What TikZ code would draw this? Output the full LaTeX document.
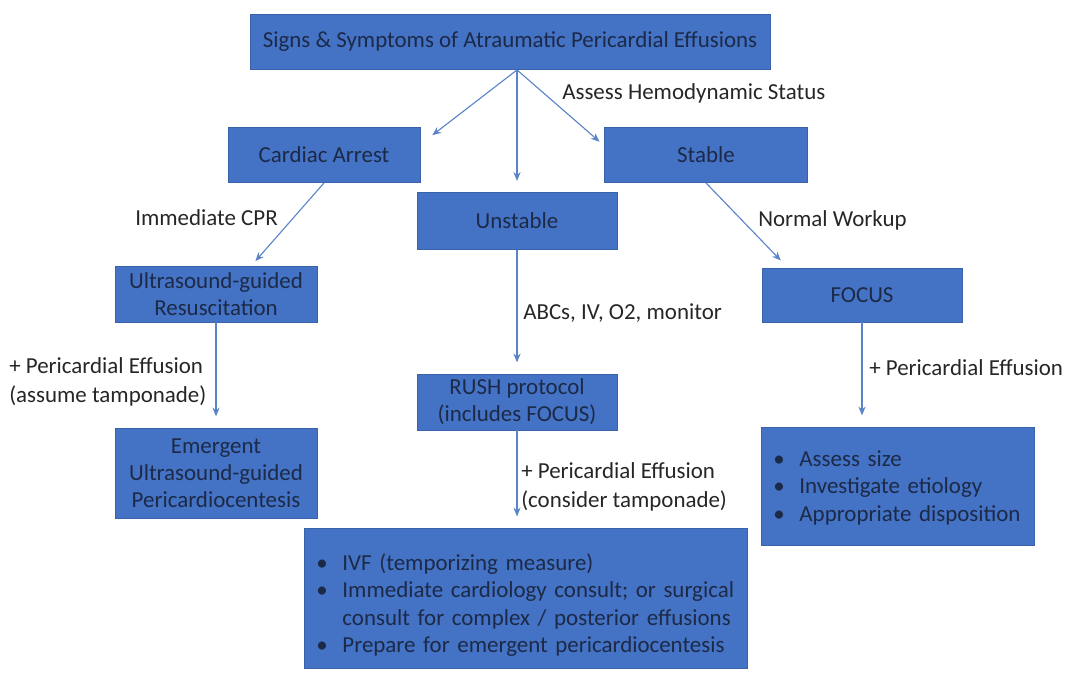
\documentclass[tikz,border=0pt]{standalone}
\usepackage{fontspec}
\setmainfont{Carlito}
\usepackage{xcolor}
\usepackage{tikz}
\usetikzlibrary{arrows.meta, positioning}
\definecolor{boxblue}{HTML}{4472C4}
\definecolor{boxedge}{HTML}{3A62AB}
\definecolor{boxtext}{HTML}{1C2A48}
\definecolor{arrowblue}{HTML}{5A84C8}
\definecolor{notetext}{HTML}{262626}
\newcommand{\flowfont}{\fontsize{16.3}{19.3}\selectfont}
\newcommand{\notefont}{\fontsize{16.3}{20.6}\selectfont}

\begin{document}
\begin{tikzpicture}[x=0.025cm, y=-0.025cm,
    flowbox/.style={draw=boxedge, fill=boxblue, text=boxtext, font=\flowfont, align=center, inner sep=0pt, line width=0.6pt},
    listbox/.style={flowbox, align=left, inner xsep=0.3cm},
    arr/.style={-{Stealth[length=2.2mm, width=1.8mm]}, arrowblue, line width=0.8pt, shorten >=0.28cm},
    note/.style={font=\notefont, text=notetext, align=left, inner sep=0pt}
]
    \useasboundingbox (0,0) rectangle (1070,675);

    % Boxes
    \node[flowbox, minimum width=13cm, minimum height=1.375cm] (signs) at (510,42) {Signs \& Symptoms of Atraumatic Pericardial Effusions};
    \node[flowbox, minimum width=4.8cm, minimum height=1.375cm] (arrest) at (324,155) {Cardiac Arrest};
    \node[flowbox, minimum width=5.075cm, minimum height=1.375cm] (stable) at (706,155) {Stable};
    \node[flowbox, minimum width=5cm, minimum height=1.425cm] (unstable) at (517,221) {Unstable};
    \node[flowbox, minimum width=5.05cm, minimum height=1.4cm] (usresus) at (216,294) {Ultrasound-guided\\Resuscitation};
    \node[flowbox, minimum width=5.05cm, minimum height=2.25cm] (pcent) at (216,473) {Emergent\\Ultrasound-guided\\Pericardiocentesis};
    \node[flowbox, minimum width=5cm, minimum height=1.35cm] (focus) at (862,295) {FOCUS};
    \node[flowbox, minimum width=5cm, minimum height=1.4cm] (rush) at (517,402) {RUSH protocol\\(includes FOCUS)};

    % Bullet lists
    \node[listbox, text width=6.225cm, minimum height=2.95cm] (stablelist) at (898,486) {%
        \begin{tabular}{@{}p{0.65cm}@{}l@{}}
        \textbullet & \rule{0pt}{17pt}Assess size\\
        \textbullet & Investigate etiology\\
        \textbullet & Appropriate disposition
        \end{tabular}};
    \node[listbox, text width=10.475cm, minimum height=3.5cm] (unstablelist) at (526,598) {%
        \begin{tabular}{@{}p{0.65cm}@{}l@{}}
        \textbullet & \rule{0pt}{25pt}IVF (temporizing measure)\\
        \textbullet & Immediate cardiology consult; or surgical\\
                    & consult for complex / posterior effusions\\
        \textbullet & Prepare for emergent pericardiocentesis
        \end{tabular}};

    % Connections
    \coordinate (fork) at (signs.south -| unstable.north);
    \draw[arr] (fork) -- ([shift={(3,15)}]arrest.north east);
    \draw[arr] (fork) -- (unstable.north);
    \draw[arr] (fork) -- ([shift={(4,22)}]stable.north west);
    \draw[arr] (arrest.south) -- ([shift={(32,4)}]usresus.north);
    \draw[arr] (stable.south) -- ([shift={(27,1)}]focus.north west);
    \draw[arr] (usresus.south) -- (pcent.north);
    \draw[arr] (unstable.south) -- (rush.north);
    \draw[arr] (rush.south) -- (rush.south |- unstablelist.north);
    \draw[arr] (focus.south) -- (focus.south |- stablelist.north);

    % Labels
    \node[note, anchor=west] (hemo) at (562,93) {Assess Hemodynamic Status};
    \node[note, anchor=east] (cpr) at (278,218) {Immediate CPR};
    \node[note, anchor=west] (workup) at (758,220) {Normal Workup};
    \node[note, anchor=west] (abc) at (523,313) {ABCs, IV, O2, monitor};
    \node[note, anchor=west] (effa) at (9,382) {+ Pericardial Effusion\\(assume tamponade)};
    \node[note, anchor=west] (effc) at (521,487) {+ Pericardial Effusion\\(consider tamponade)};
    \node[note, anchor=west] (effs) at (869,368) {+ Pericardial Effusion};
\end{tikzpicture}
\end{document}
